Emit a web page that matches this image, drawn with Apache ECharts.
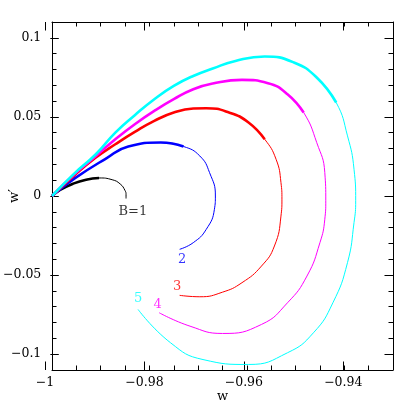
<!DOCTYPE html>
<html>
<head>
<meta charset="utf-8">
<script src="https://cdn.jsdelivr.net/npm/echarts@6/dist/echarts.min.js"></script>
<style>
  html, body { margin: 0; padding: 0; background: #fff; }
  #main { width: 415px; height: 415px; }
</style>
</head>
<body>
<div id="main"></div>
<script>
// axis ranges and ticks
var xRange = [-1, -0.93];
var yRange = [-0.11, 0.11];
var xTicks = [-1, -0.98, -0.96, -0.94];
var yTicks = [-0.1, -0.05, 0, 0.05, 0.1];
var xMinorStep = 0.005;
var yMinorStep = 0.01;

// B = 1
var w1  = [-1, -0.99834, -0.99566, -0.993, -0.99034, -0.98766, -0.986, -0.985, -0.9848, -0.9848];
var wp1 = [0, 0.0038, 0.0078, 0.0103, 0.0114, 0.0103, 0.0076, 0.0034, 0.0008, -0.0016];
// B = 2
var w2  = [-1, -0.9955, -0.989, -0.98434, -0.97766, -0.973, -0.96966, -0.96766, -0.96646, -0.96666, -0.96834, -0.971, -0.9738];
var wp2 = [0, 0.0108, 0.0235, 0.0313, 0.0338, 0.0313, 0.0253, 0.0148, 0, -0.0084, -0.0211, -0.0295, -0.0337];
// B = 3
var w3  = [-1, -0.9955, -0.991, -0.987, -0.983, -0.979, -0.975, -0.971, -0.96834, -0.96366, -0.95966, -0.95634, -0.954, -0.953, -0.9528, -0.953, -0.95434, -0.957, -0.961, -0.965, -0.96966, -0.9738];
var wp3 = [0, 0.0128, 0.0243, 0.0327, 0.0405, 0.0475, 0.0528, 0.0553, 0.0555, 0.0528, 0.0465, 0.0359, 0.0232, 0.0085, -0.002, -0.0127, -0.0316, -0.0443, -0.0548, -0.0608, -0.0637, -0.0628];
// B = 4
var w4  = [-1, -0.9955, -0.991, -0.987, -0.983, -0.979, -0.975, -0.971, -0.967, -0.961, -0.95566, -0.95166, -0.94834, -0.94566, -0.944, -0.9438, -0.944, -0.945, -0.94766, -0.95166, -0.957, -0.965, -0.97166, -0.978];
var wp4 = [0, 0.0135, 0.0253, 0.0359, 0.0454, 0.0538, 0.0612, 0.0675, 0.0711, 0.0734, 0.0713, 0.0644, 0.0528, 0.0338, 0.0148, -0.003, -0.0147, -0.0295, -0.0506, -0.0675, -0.0812, -0.0869, -0.0823, -0.0738];
// B = 5
var w5  = [-1, -0.9955, -0.991, -0.987, -0.983, -0.979, -0.975, -0.971, -0.967, -0.96234, -0.95634, -0.95034, -0.94566, -0.94166, -0.93934, -0.938, -0.93766, -0.938, -0.93934, -0.94234, -0.94634, -0.95166, -0.95966, -0.969, -0.97566, -0.98234];
var wp5 = [0, 0.0140, 0.0264, 0.0401, 0.0511, 0.0612, 0.0696, 0.0759, 0.0806, 0.0854, 0.0882, 0.0844, 0.0749, 0.0591, 0.038, 0.0169, -0.003, -0.0168, -0.0421, -0.0675, -0.0865, -0.0991, -0.1065, -0.1034, -0.0928, -0.0717];

// index where each track switches from thick to thin
var thickEnd = [4, 5, 11, 12, 13];

// curve labels
var labelText = ['B=1', '2', '3', '4', '5'];
var labelW  = [-0.9834, -0.9733, -0.9743, -0.9783, -0.9823];
var labelWp = [-0.0100, -0.0400, -0.0570, -0.0685, -0.0650];

var colors = ['#000000', '#0000ff', '#ff0000', '#ff00ff', '#00ffff'];
var tracks = [[w1, wp1], [w2, wp2], [w3, wp3], [w4, wp4], [w5, wp5]];

var font = 'DejaVu Serif';
// plot box in pixels
var L = 45, T = 22, R = 22, B = 45, W = 415 - L - R, H = 415 - T - B;
var xSpan = xRange[1] - xRange[0], ySpan = yRange[1] - yRange[0];
// sub grids covering only the major tick ranges
var g2top = T + H * (yRange[1] - yTicks[yTicks.length - 1]) / ySpan;
var g2bot = B + H * (yTicks[0] - yRange[0]) / ySpan;
var g3right = R + W * (xRange[1] - xTicks[xTicks.length - 1]) / xSpan;

function fmt(v) {
    var r = Math.round(v * 1000) / 1000;
    return (r < 0 ? '\u2212' : '') + Math.abs(r);
}

var series = [];
tracks.forEach(function (t, k) {
    var pts = t[0].map(function (x, i) { return [x, t[1][i]]; });
    // thin part starts one point early (hidden under the thick part) so the join stays smooth
    series.push({
        type: 'line', xAxisIndex: 0, yAxisIndex: 0, symbol: 'none', smooth: 0.5,
        data: pts.slice(Math.max(thickEnd[k] - 1, 0)),
        lineStyle: { color: colors[k], width: 1 }, z: 3 + k
    });
    series.push({
        type: 'line', xAxisIndex: 0, yAxisIndex: 0, symbol: 'none', smooth: 0.5,
        data: pts.slice(0, thickEnd[k] + 1),
        lineStyle: { color: colors[k], width: 2.6 }, z: 3 + k
    });
});
series.push({
    type: 'scatter', xAxisIndex: 0, yAxisIndex: 0, symbolSize: 0, z: 10,
    data: labelText.map(function (s, i) {
        return { value: [labelW[i], labelWp[i], s], label: { color: colors[i] } };
    }),
    label: {
        show: true, position: 'inside', fontFamily: font, fontSize: 13,
        formatter: function (p) { return p.data.value[2]; }
    }
});

var lineSt = { show: true, onZero: false, lineStyle: { color: '#000', width: 1 } };
var noLine = { show: false, onZero: false };
var tickSt = function (len) { return { show: true, inside: true, length: len, lineStyle: { color: '#000', width: 1 } }; };
var labSt = function (m) { return { show: true, margin: m, fontFamily: font, fontSize: 12.5, color: '#000', formatter: fmt }; };
var nameSt = { fontFamily: font, fontSize: 13, color: '#000' };

var myChart = echarts.init(document.getElementById('main'), null, { renderer: 'canvas' });
myChart.setOption({
    animation: false,
    backgroundColor: '#fff',
    grid: [
        { left: L, top: T, right: R, bottom: B },
        { left: L, top: g2top, right: R, bottom: g2bot },
        { left: L, top: T, right: g3right, bottom: B }
    ],
    xAxis: [
        { gridIndex: 0, type: 'value', position: 'bottom', min: xRange[0], max: xRange[1], interval: xMinorStep,
          axisLine: lineSt, axisTick: tickSt(4.5), axisLabel: { show: false }, splitLine: { show: false },
          name: 'w', nameLocation: 'middle', nameGap: 20, nameTextStyle: nameSt },
        { gridIndex: 0, type: 'value', position: 'top', min: xRange[0], max: xRange[1], interval: xMinorStep,
          axisLine: lineSt, axisTick: tickSt(4.5), axisLabel: { show: false }, splitLine: { show: false } },
        { gridIndex: 1, type: 'value', min: xRange[0], max: xRange[1], show: false },
        { gridIndex: 2, type: 'value', position: 'bottom', min: xTicks[0], max: xTicks[xTicks.length - 1], interval: 0.02,
          axisLine: noLine, axisTick: tickSt(8.5), axisLabel: labSt(6), splitLine: { show: false } },
        { gridIndex: 2, type: 'value', position: 'top', min: xTicks[0], max: xTicks[xTicks.length - 1], interval: 0.02,
          axisLine: noLine, axisTick: tickSt(8.5), axisLabel: { show: false }, splitLine: { show: false } }
    ],
    yAxis: [
        { gridIndex: 0, type: 'value', position: 'left', min: yRange[0], max: yRange[1], interval: yMinorStep,
          axisLine: lineSt, axisTick: tickSt(4.5), axisLabel: { show: false }, splitLine: { show: false },
          name: 'w\u2032', nameLocation: 'middle', nameGap: 31, nameTextStyle: nameSt },
        { gridIndex: 0, type: 'value', position: 'right', min: yRange[0], max: yRange[1], interval: yMinorStep,
          axisLine: lineSt, axisTick: tickSt(4.5), axisLabel: { show: false }, splitLine: { show: false } },
        { gridIndex: 1, type: 'value', position: 'left', min: yTicks[0], max: yTicks[yTicks.length - 1], interval: 0.05,
          axisLine: noLine, axisTick: tickSt(8.5), axisLabel: labSt(9), splitLine: { show: false } },
        { gridIndex: 1, type: 'value', position: 'right', min: yTicks[0], max: yTicks[yTicks.length - 1], interval: 0.05,
          axisLine: noLine, axisTick: tickSt(8.5), axisLabel: { show: false }, splitLine: { show: false } },
        { gridIndex: 2, type: 'value', min: yRange[0], max: yRange[1], show: false }
    ],
    series: series
});
</script>
</body>
</html>
